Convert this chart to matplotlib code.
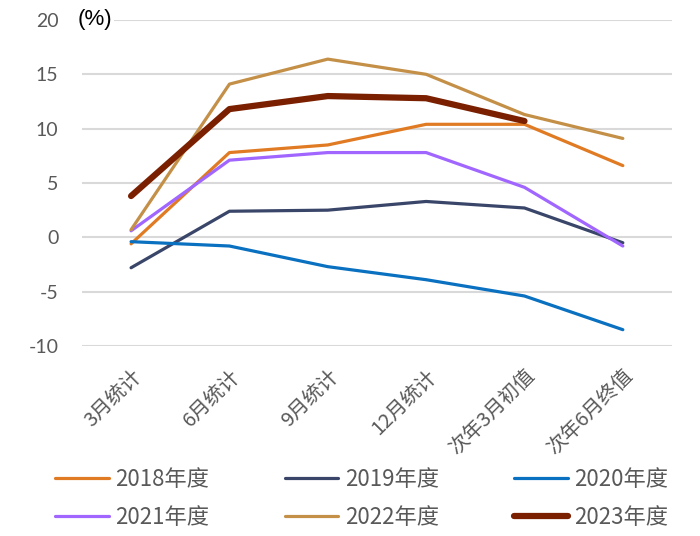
import matplotlib
matplotlib.use("Agg")
import matplotlib.pyplot as plt

plt.rcParams['font.family'] = ['Noto Sans CJK SC', 'DejaVu Sans']

# Dane
kategorie = ["3月统计", "6月统计", "9月统计", "12月统计", "次年3月初值", "次年6月终值"]
y_2018 = [-0.6, 7.8, 8.5, 10.4, 10.4, 6.6]
y_2019 = [-2.8, 2.4, 2.5, 3.3, 2.7, -0.5]
y_2020 = [-0.4, -0.8, -2.7, -3.9, -5.4, -8.5]
y_2021 = [0.6, 7.1, 7.8, 7.8, 4.6, -0.8]
y_2022 = [0.7, 14.1, 16.4, 15.0, 11.3, 9.1]
y_2023 = [3.8, 11.8, 13.0, 12.8, 10.7]
y_ticks = [-10, -5, 0, 5, 10, 15, 20]

serie = [
    ("2018年度", y_2018, "#E07B24", 2.3),
    ("2019年度", y_2019, "#3A4669", 2.3),
    ("2020年度", y_2020, "#0A70C0", 2.3),
    ("2021年度", y_2021, "#A066FF", 2.3),
    ("2022年度", y_2022, "#C49048", 2.3),
    ("2023年度", y_2023, "#7A2000", 4.5),
]

fig = plt.figure(figsize=(7, 5.36), dpi=100)
ax = fig.add_axes([0.117, 0.3545, 0.843, 0.6082])

linie = []
for nazwa, wartosci, kolor, lw in serie:
    l, = ax.plot(range(len(wartosci)), wartosci, color=kolor, linewidth=lw,
                 solid_capstyle='round', solid_joinstyle='round', label=nazwa)
    linie.append(l)

ax.set_xlim(-0.5, 5.5)
ax.set_ylim(-10, 20)
ax.set_yticks(y_ticks)
ax.set_yticklabels([str(t) for t in y_ticks], fontsize=14, color='#595959',
                   family=['Lato', 'DejaVu Sans'])
ax.set_xticks(range(len(kategorie)))
ax.set_xticklabels(kategorie, rotation=45, ha='right', rotation_mode='anchor',
                   fontsize=14.5, color='#595959')
ax.tick_params(axis='y', length=0, pad=17)
ax.tick_params(axis='x', length=0, pad=14)
ax.grid(axis='y', color='#D9D9D9', linewidth=1.5)
ax.set_axisbelow(True)
for s in ax.spines.values():
    s.set_visible(False)

ax.text(-0.007, 20, "(%)", transform=ax.get_yaxis_transform(), fontsize=16,
        color='black', ha='left', va='center', family=['Liberation Sans', 'DejaVu Sans'],
        bbox=dict(facecolor='white', edgecolor='none', pad=1))

# kolejnosc legendy wierszami (matplotlib wypelnia kolumnami)
kol = [0, 3, 1, 4, 2, 5]
fig.legend([linie[i] for i in kol], [serie[i][0] for i in kol],
           loc='lower center', bbox_to_anchor=(0.517, -0.024), ncol=3, frameon=False,
           fontsize=16, handlelength=2.4, columnspacing=3.4, handletextpad=0.3,
           labelspacing=0.66, labelcolor='#595959')

fig.savefig("out.png", dpi=100)
